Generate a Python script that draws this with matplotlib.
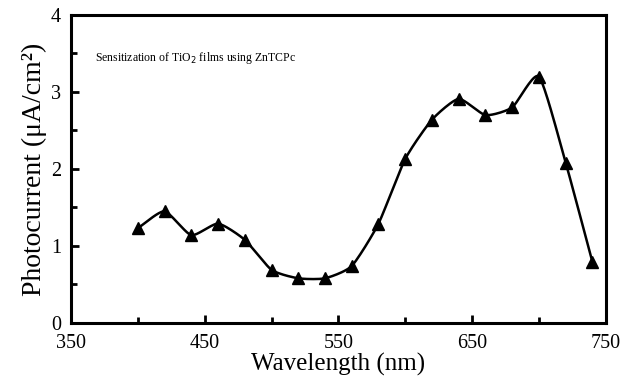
import numpy as np
import matplotlib.pyplot as plt
from matplotlib.ticker import MultipleLocator

# photocurrent action spectrum
wavelength = [400, 420, 440, 460, 480, 500, 520, 540, 560, 580,
              600, 620, 640, 660, 680, 700, 720, 740]
photocurrent = [1.23, 1.45, 1.14, 1.29, 1.08, 0.69, 0.58, 0.58, 0.74, 1.29,
                2.13, 2.64, 2.91, 2.70, 2.80, 3.20, 2.08, 0.79]

x_ticks = [350, 450, 550, 650, 750]
y_ticks = [0, 1, 2, 3, 4]

plt.rcParams['font.family'] = ['Liberation Serif', 'DejaVu Serif']


def smooth_line(xs, ys, k=0.3, n=20):
    # cardinal spline through the measured points, only for drawing the line
    xs = np.asarray(xs, float)
    ys = np.asarray(ys, float)
    outx, outy = [], []
    t = np.linspace(0, 1, n, endpoint=False)
    h00 = 2 * t**3 - 3 * t**2 + 1
    h10 = t**3 - 2 * t**2 + t
    h01 = -2 * t**3 + 3 * t**2
    h11 = t**3 - t**2
    for arr, out in ((xs, outx), (ys, outy)):
        m = np.zeros_like(arr)
        m[1:-1] = k * (arr[2:] - arr[:-2])
        m[0] = k * 2 * (arr[1] - arr[0])
        m[-1] = k * 2 * (arr[-1] - arr[-2])
        for i in range(len(arr) - 1):
            out.extend(h00 * arr[i] + h10 * m[i] + h01 * arr[i + 1] + h11 * m[i + 1])
        out.append(arr[-1])
    return outx, outy


fig = plt.figure(figsize=(6.22, 3.84), dpi=100)
ax = fig.add_axes([0.114, 0.159, 0.86, 0.802])

sx, sy = smooth_line(wavelength, photocurrent)
ax.plot(sx, sy, color='black', lw=1.8)
ax.plot(wavelength, photocurrent, ls='none', marker='^', ms=9,
        color='black')

ax.set_xlim(350, 750)
ax.set_ylim(0, 4)
ax.set_xticks(x_ticks)
ax.set_yticks(y_ticks)
ax.xaxis.set_minor_locator(MultipleLocator(50))
ax.yaxis.set_minor_locator(MultipleLocator(0.5))
ax.tick_params(which='both', direction='in', top=False, right=False,
               labelsize=14.5, width=2)
ax.tick_params(which='major', length=6)
ax.tick_params(axis='x', which='major', pad=8)
ax.tick_params(axis='y', which='major', pad=7)
ax.tick_params(which='minor', length=4)
for s in ax.spines.values():
    s.set_linewidth(2.2)

ax.set_xlabel('Wavelength (nm)', fontsize=18, labelpad=0)
ax.set_ylabel('Photocurrent (\u03bcA/cm\u00b2)', fontsize=20, labelpad=3)

ax.text(0.045, 0.85, 'Sensitization of TiO$_2$ films using ZnTCPc',
        transform=ax.transAxes, fontsize=8.5)

fig.savefig('out.png', dpi=100)
